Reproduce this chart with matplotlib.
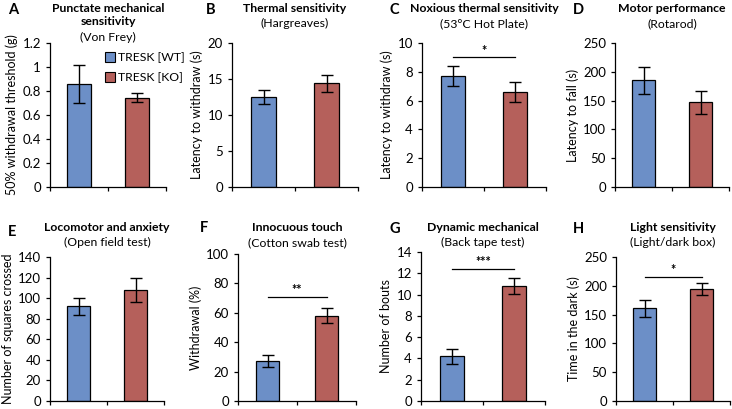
import numpy as np
import matplotlib
matplotlib.use("Agg")
import matplotlib.pyplot as plt
import matplotlib.patches as mpatches
from matplotlib.ticker import FuncFormatter

plt.rcParams["font.family"] = ["Lato", "DejaVu Sans"]

W, H = 732, 409

GROUPS = ["TRESK [WT]", "TRESK [KO]"]
COLORS = ["#6C8FC7", "#B5605B"]

# panel data: means and SEM for WT, KO
letters   = ["A", "B", "C", "D", "E", "F", "G", "H"]
titles    = ["Punctate mechanical\nsensitivity", "Thermal sensitivity",
             "Noxious thermal sensitivity", "Motor performance",
             "Locomotor and anxiety", "Innocuous touch",
             "Dynamic mechanical", "Light sensitivity"]
subtitles = ["(Von Frey)", "(Hargreaves)", "(53°C Hot Plate)", "(Rotarod)",
             "(Open field test)", "(Cotton swab test)", "(Back tape test)",
             "(Light/dark box)"]
ylabels   = ["50% withdrawal threshold (g)", "Latency to withdraw (s)",
             "Latency to withdraw (s)", "Latency to fall (s)",
             "Number of squares crossed", "Withdrawal (%)",
             "Number of bouts", "Time in the dark (s)"]
means = [[0.86, 0.745], [12.5, 14.4], [7.7, 6.6], [185, 147],
         [92, 108], [27, 58], [4.2, 10.8], [161, 195]]
errs  = [[0.16, 0.04], [1.0, 1.15], [0.7, 0.7], [23, 20],
         [8.5, 12], [4, 5], [0.7, 0.75], [15, 10.5]]
ymax  = [1.2, 20, 10, 250, 140, 100, 14, 250]
ystep = [0.2, 5, 2, 50, 20, 20, 2, 50]
sig_marks = [None, None, "*", None, None, "**", "***", "*"]
sig_y     = [None, None, 9.0, None, None, 71, 12.4, 215]

# axes boxes in pixels: left, right, top, bottom
boxes = [(50, 166, 43, 187), (232, 358, 43, 187), (422, 546, 43, 187),
         (615, 729, 43, 187), (50, 164, 257, 401), (238, 356, 254, 401),
         (421, 545, 252, 401), (616, 730, 257, 401)]
letter_pos = [(8, 10), (206, 10), (390, 10), (573, 10),
              (8, 232), (200, 228), (389, 229), (573, 229)]

fig = plt.figure(figsize=(W / 100, H / 100), dpi=100)

for i in range(8):
    l, r, t, b = boxes[i]
    ax = fig.add_axes([l / W, 1 - b / H, (r - l) / W, (b - t) / H])
    x = np.arange(2)
    ax.bar(x, means[i], width=0.4, color=COLORS, edgecolor="black", linewidth=0.9,
           yerr=errs[i], error_kw=dict(ecolor="black", elinewidth=1.0, capsize=4, capthick=1.0))
    ax.set_xlim(-0.5, 1.5)
    ax.set_ylim(0, ymax[i])
    ax.set_yticks(np.arange(0, ymax[i] + ystep[i] / 2, ystep[i]))
    ax.yaxis.set_major_formatter(FuncFormatter(lambda v, p: f"{v:g}"))
    ax.set_xticks([-0.5, 0.5, 1.5])
    ax.set_xticklabels([])
    ax.spines["top"].set_visible(False)
    ax.spines["right"].set_visible(False)
    ax.spines["left"].set_linewidth(0.9)
    ax.spines["bottom"].set_linewidth(0.9)
    ax.tick_params(axis="both", direction="out", length=3, width=0.9, labelsize=9.5)
    ax.set_ylabel(ylabels[i], fontsize=9, labelpad=3)

    if sig_marks[i]:
        ax.plot([0, 1], [sig_y[i], sig_y[i]], color="black", lw=0.9)
        ax.text(0.5, sig_y[i] + ymax[i] * 0.005, sig_marks[i], ha="center", va="bottom",
                fontsize=9, fontweight="bold")

    cx = (l + r) / 2 / W
    if i == 0:
        fig.text(cx, 1 - 3 / H, titles[i], ha="center", va="top", fontsize=8.8,
                 fontweight="bold", linespacing=1.25)
        fig.text(cx, 1 - 32 / H, subtitles[i], ha="center", va="top", fontsize=8.8)
    else:
        top_px = 3 if i < 4 else 222
        fig.text(cx, 1 - top_px / H, titles[i], ha="center", va="top", fontsize=8.8,
                 fontweight="bold")
        fig.text(cx, 1 - (top_px + 15) / H, subtitles[i], ha="center", va="top", fontsize=8.8)

    lx, ly = letter_pos[i]
    fig.text(lx / W, 1 - ly / H, letters[i], ha="left", va="center", fontsize=10.5,
             fontweight="bold")

    if i == 0:
        handles = [mpatches.Patch(facecolor=c, edgecolor="black", linewidth=0.8, label=g)
                   for c, g in zip(COLORS, GROUPS)]
        ax.legend(handles=handles, loc="upper left", bbox_to_anchor=(0.43, 0.97),
                  frameon=False, fontsize=8.8, handlelength=0.8, handleheight=0.8,
                  handletextpad=0.3, labelspacing=0.75, borderaxespad=0)

fig.savefig("out.png", dpi=100)
